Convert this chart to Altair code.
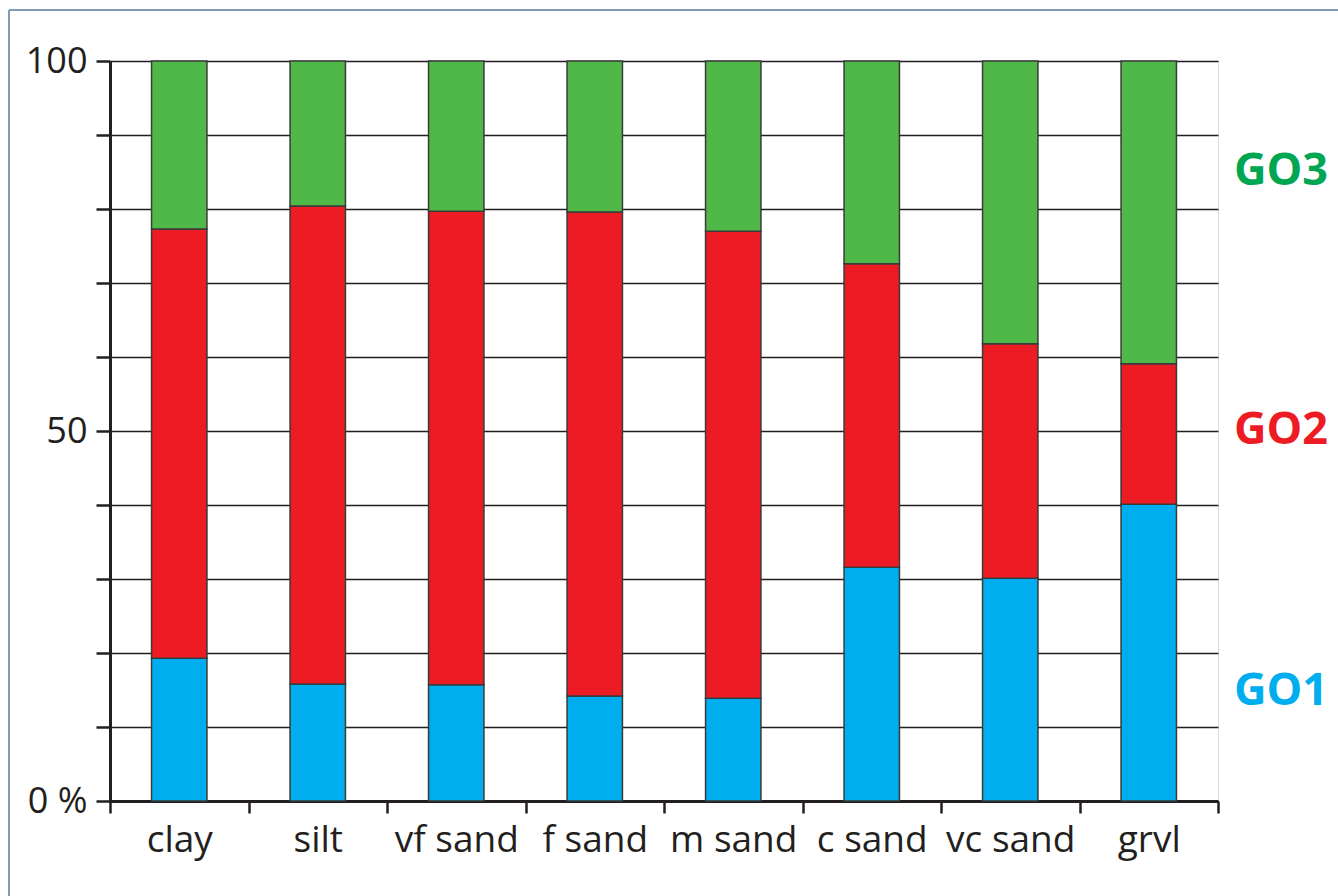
import altair as alt
import pandas as pd

categories = ["clay", "silt", "vf sand", "f sand", "m sand", "c sand", "vc sand", "grvl"]
go1 = [19.3, 15.8, 15.7, 14.2, 13.9, 31.6, 30.1, 40.1]
go2 = [58.0, 64.6, 64.0, 65.4, 63.1, 41.0, 31.7, 19.0]
go3 = [22.7, 19.6, 20.3, 20.4, 23.0, 27.4, 38.2, 40.9]

groups = ["GO1", "GO2", "GO3"]
group_colors = ["#00AEEF", "#ED1C24", "#50B848"]
label_colors = ["#00AEEF", "#ED1C24", "#00A651"]
label_y = [14.8, 50.1, 85.2]

rows = []
for i, c in enumerate(categories):
    for g, vals in zip(groups, [go1, go2, go3]):
        rows.append({"cat": c, "group": g, "value": vals[i], "ord": groups.index(g)})
df = pd.DataFrame(rows)
lab = pd.DataFrame({"group": groups, "y": label_y, "color": label_colors})

FONT = "Open Sans"
W, H = 1108, 740

bars = alt.Chart(df).mark_bar(
    width=alt.RelativeBandSize(0.4), stroke="#3a3a3a", strokeWidth=1.5
).encode(
    x=alt.X("cat:N", sort=categories, title=None,
            scale=alt.Scale(paddingInner=0, paddingOuter=0),
            axis=alt.Axis(tickBand="extent", labelAngle=0, labelFont=FONT,
                          labelFontSize=37, labelColor="#231f20", labelPadding=9,
                          tickSize=12, tickWidth=2.5, tickColor="#231f20",
                          domainColor="#231f20", domainWidth=3, grid=False,
                          labelBaseline="top")),
    y=alt.Y("value:Q", stack="zero", title=None,
            scale=alt.Scale(domain=[0, 100], nice=False),
            axis=alt.Axis(values=list(range(0, 101, 10)),
                          labelExpr="datum.value == 0 ? '0 %' : (datum.value % 50 == 0 ? datum.label : '')",
                          labelFont=FONT, labelFontSize=36, labelColor="#231f20",
                          labelPadding=9, tickSize=14, tickWidth=2.5, tickColor="#231f20",
                          domainColor="#231f20", domainWidth=3,
                          grid=True, gridColor="#231f20", gridWidth=1.6, gridOpacity=1)),
    color=alt.Color("group:N", scale=alt.Scale(domain=groups, range=group_colors), legend=None),
    order=alt.Order("ord:Q"),
)

labels = alt.Chart(lab).mark_text(
    font=FONT, fontSize=45, fontWeight="bold", align="center", baseline="middle"
).encode(
    x=alt.value(W + 63),
    y=alt.Y("y:Q", scale=alt.Scale(domain=[0, 100], nice=False)),
    text="group:N",
    color=alt.Color("color:N", scale=None),
)

frame_top = alt.Chart(pd.DataFrame({"a": [0]})).mark_rule(color="#7f9bb8", strokeWidth=2).encode(
    x=alt.value(-101), x2=alt.value(W + 130), y=alt.value(-51)
)
frame_left = alt.Chart(pd.DataFrame({"a": [0]})).mark_rule(color="#7f9bb8", strokeWidth=2).encode(
    x=alt.value(-101), y=alt.value(-51), y2=alt.value(H + 100)
)

chart = alt.layer(bars, labels, frame_top, frame_left).properties(
    width=W, height=H,
    autosize=alt.AutoSizeParams(type="none"),
    padding={"left": 110, "top": 61, "right": 120, "bottom": 95},
).configure_view(stroke=None).configure(background="white")

chart.save("out.html", embed_options={"renderer": "svg", "actions": False})
